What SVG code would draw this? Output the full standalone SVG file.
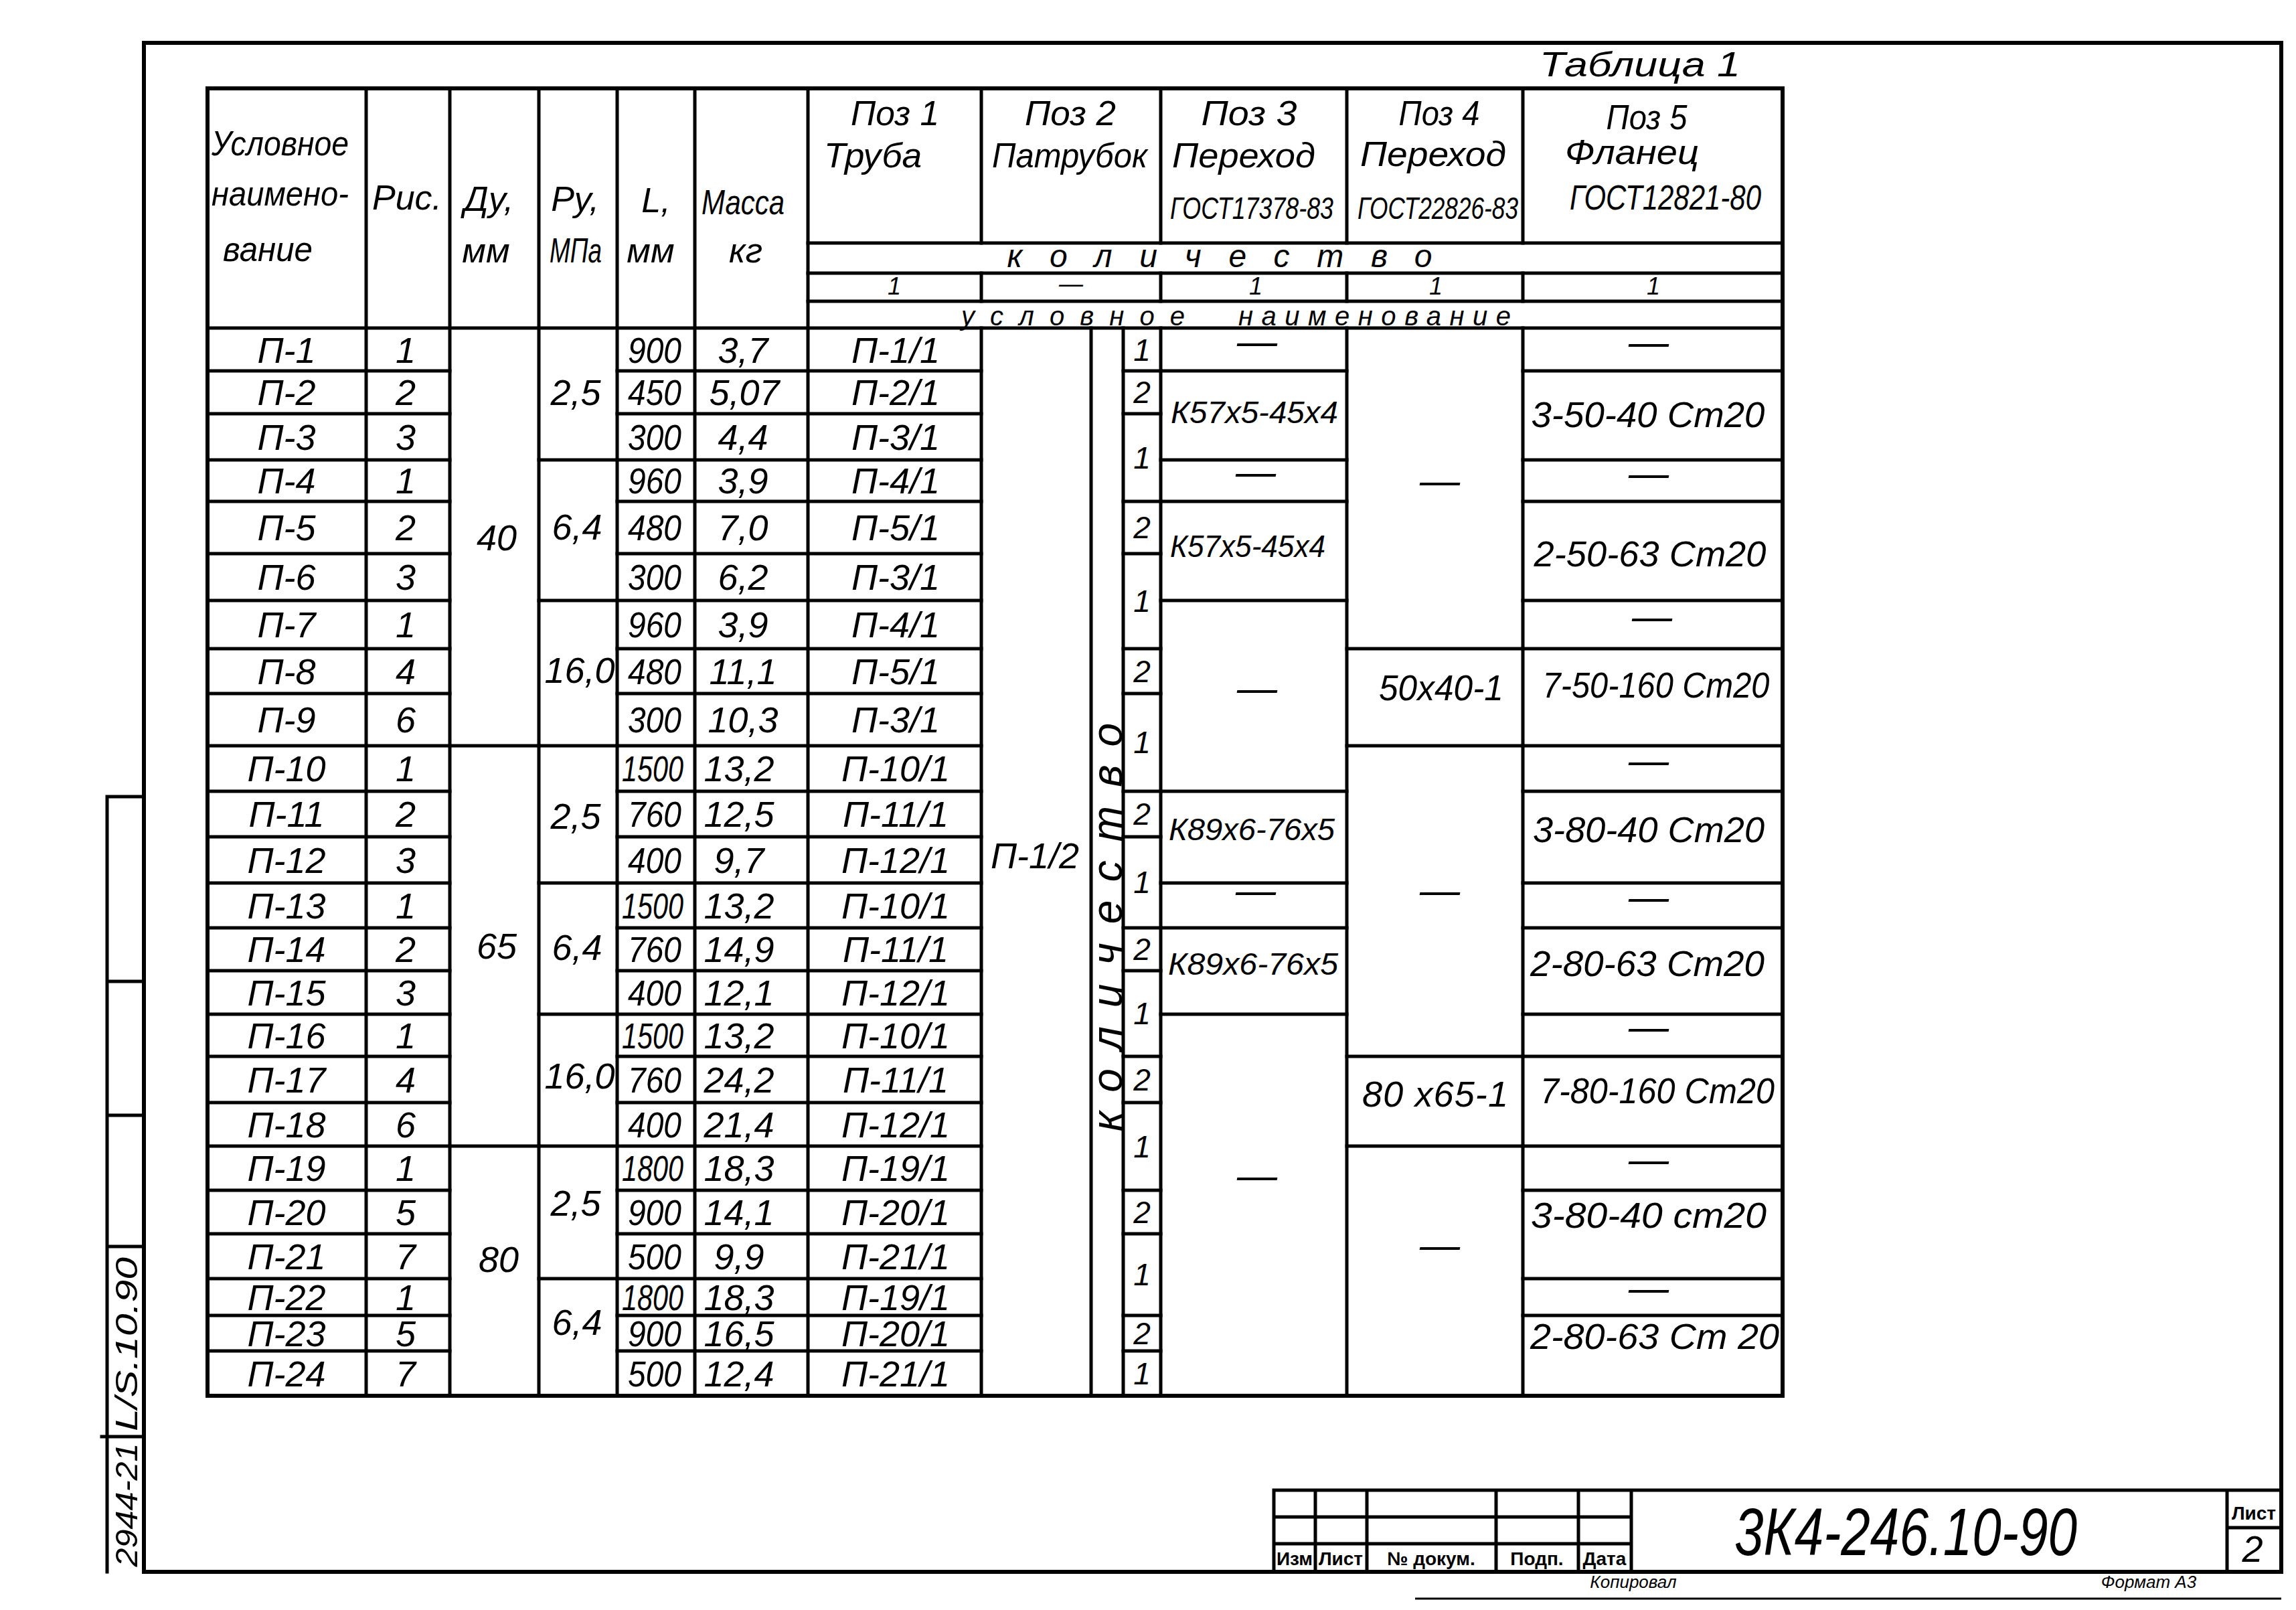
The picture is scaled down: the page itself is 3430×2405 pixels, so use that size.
<svg xmlns="http://www.w3.org/2000/svg" width="3430" height="2405" viewBox="0 0 3430 2405">
<style>
.ln{stroke:#000;stroke-width:5;fill:none;stroke-linecap:square}
.th{stroke:#000;stroke-width:6;fill:none;stroke-linecap:square}
.tn{stroke:#000;stroke-width:3;fill:none}
text{font-family:"Liberation Sans","DejaVu Sans",sans-serif;font-style:italic;fill:#000}
.h{font-size:52px}
.g{font-size:46px}
.d{font-size:54px;text-anchor:middle}
.m{text-anchor:middle}
.s{font-size:46px;text-anchor:middle}
.ds{font-size:60px;text-anchor:middle}
.tb{font-size:28px;font-style:normal;font-weight:bold;text-anchor:middle}
</style>
<rect width="3430" height="2405" fill="#fff"/>

<g id="frame">
  <path class="th" d="M215 64H3408V2348H215Z"/>
  <text x="2450" y="114" font-size="52" class="m" textLength="300" lengthAdjust="spacingAndGlyphs">Таблица 1</text>
</g>

<g id="stamp">
  <path class="ln" d="M160 1190H215M160 1190V2348M160 1466H215M160 1666H215M160 1862H215M152 2146H215"/>
  <text transform="translate(205,2248) rotate(-90)" font-size="46" class="m" textLength="185" lengthAdjust="spacingAndGlyphs">2944-21</text>
  <text transform="translate(205,2008) rotate(-90)" font-size="46" class="m" textLength="260" lengthAdjust="spacingAndGlyphs">L/S.10.90</text>
</g>

<g id="table-grid">
  <path class="th" d="M310 132H2663V2085H310Z"/>
  <path class="ln" d="M310 490H2663M1207 363H2663M1207 408H2663M1207 450H2663"/>
  <path class="ln" d="M547 132V2085M672 132V2085M805 132V2085M922 132V2085M1038 132V2085M1207 132V2085"/>
  <path class="ln" d="M1466 132V363M1734 132V363M2012 132V363M2275 132V363M1466 408V450M1734 408V450M2012 408V450M2275 408V450"/>
  <path class="ln" d="M1466 490V2085M1630 490V2085M1678 490V2085M1734 490V2085M2012 490V2085M2275 490V2085"/>
  <path class="ln" d="M310 554H672M310 618H672M310 687H672M310 749H672M310 827H672M310 897H672M310 969H672M310 1036H672M310 1114H672M310 1182H672M310 1250H672M310 1319H672M310 1386H672M310 1450H672M310 1515H672M310 1578H672M310 1647H672M310 1712H672M310 1778H672M310 1843H672M310 1910H672M310 1965H672M310 2018H672"/>
  <path class="ln" d="M922 554H1466M922 618H1466M922 687H1466M922 749H1466M922 827H1466M922 897H1466M922 969H1466M922 1036H1466M922 1114H1466M922 1182H1466M922 1250H1466M922 1319H1466M922 1386H1466M922 1450H1466M922 1515H1466M922 1578H1466M922 1647H1466M922 1712H1466M922 1778H1466M922 1843H1466M922 1910H1466M922 1965H1466M922 2018H1466"/>
  <path class="ln" d="M672 1114H805M672 1712H805"/>
  <path class="ln" d="M805 687H922M805 897H922M805 1114H922M805 1319H922M805 1515H922M805 1712H922M805 1910H922"/>
  <path class="ln" d="M1678 554H1734M1678 618H1734M1678 749H1734M1678 827H1734M1678 969H1734M1678 1036H1734M1678 1182H1734M1678 1250H1734M1678 1386H1734M1678 1450H1734M1678 1578H1734M1678 1647H1734M1678 1778H1734M1678 1843H1734M1678 1965H1734M1678 2018H1734"/>
  <path class="ln" d="M1734 554H2012M1734 687H2012M1734 749H2012M1734 897H2012M1734 1182H2012M1734 1319H2012M1734 1386H2012M1734 1515H2012"/>
  <path class="ln" d="M2012 969H2275M2012 1114H2275M2012 1578H2275M2012 1712H2275"/>
  <path class="ln" d="M2275 554H2663M2275 687H2663M2275 749H2663M2275 897H2663M2275 969H2663M2275 1114H2663M2275 1182H2663M2275 1319H2663M2275 1386H2663M2275 1515H2663M2275 1578H2663M2275 1712H2663M2275 1778H2663M2275 1910H2663M2275 1965H2663"/>
</g>

<g id="header">
  <text class="h" x="316" y="232" textLength="205" lengthAdjust="spacingAndGlyphs">Условное</text>
  <text class="h" x="316" y="307" textLength="205" lengthAdjust="spacingAndGlyphs">наимено-</text>
  <text class="h" x="333" y="390" textLength="134" lengthAdjust="spacingAndGlyphs">вание</text>
  <text class="h m" x="608" y="313">Рис.</text>
  <text class="h m" x="730" y="315">Ду,</text>
  <text class="h m" x="726" y="392">мм</text>
  <text class="h m" x="859" y="315">Ру,</text>
  <text class="h m" x="860" y="392" textLength="78" lengthAdjust="spacingAndGlyphs">МПа</text>
  <text class="h m" x="980" y="317">L,</text>
  <text class="h m" x="972" y="392">мм</text>
  <text class="h m" x="1110" y="320" textLength="124" lengthAdjust="spacingAndGlyphs">Масса</text>
  <text class="h m" x="1114" y="392">кг</text>

  <text class="h m" x="1337" y="187" textLength="132" lengthAdjust="spacingAndGlyphs">Поз 1</text>
  <text class="h m" x="1304" y="250" textLength="146" lengthAdjust="spacingAndGlyphs">Труба</text>
  <text class="h m" x="1599" y="187" textLength="136" lengthAdjust="spacingAndGlyphs">Поз 2</text>
  <text class="h m" x="1598" y="250" textLength="232" lengthAdjust="spacingAndGlyphs">Патрубок</text>
  <text class="h m" x="1866" y="187" textLength="143" lengthAdjust="spacingAndGlyphs">Поз 3</text>
  <text class="h m" x="1858" y="250" textLength="214" lengthAdjust="spacingAndGlyphs">Переход</text>
  <text class="g m" x="1870" y="327" textLength="244" lengthAdjust="spacingAndGlyphs">ГОСТ17378-83</text>
  <text class="h m" x="2150" y="187" textLength="121" lengthAdjust="spacingAndGlyphs">Поз 4</text>
  <text class="h m" x="2141" y="248" textLength="218" lengthAdjust="spacingAndGlyphs">Переход</text>
  <text class="g m" x="2148" y="327" textLength="240" lengthAdjust="spacingAndGlyphs">ГОСТ22826-83</text>
  <text class="h m" x="2460" y="193" textLength="121" lengthAdjust="spacingAndGlyphs">Поз 5</text>
  <text class="h m" x="2438" y="245" textLength="200" lengthAdjust="spacingAndGlyphs">Фланец</text>
  <text class="h m" x="2488" y="313" textLength="286" lengthAdjust="spacingAndGlyphs">ГОСТ12821-80</text>

  <text font-size="48" class="m" x="1822" y="399" textLength="635" lengthAdjust="spacing">количество</text>
  <text font-size="36" class="m" x="1336" y="440">1</text>
  <text font-size="36" class="m" x="1600" y="436">—</text>
  <text font-size="36" class="m" x="1876" y="440">1</text>
  <text font-size="36" class="m" x="2145" y="440">1</text>
  <text font-size="36" class="m" x="2470" y="440">1</text>
  <text font-size="40" x="1436" y="486" textLength="334" lengthAdjust="spacing">условное</text>
  <text font-size="40" x="1850" y="486" textLength="407" lengthAdjust="spacing">наименование</text>
</g>

<g id="col-name">
  <text class="d" x="428" y="542">П-1</text>
  <text class="d" x="428" y="605">П-2</text>
  <text class="d" x="428" y="672">П-3</text>
  <text class="d" x="428" y="737">П-4</text>
  <text class="d" x="428" y="807">П-5</text>
  <text class="d" x="428" y="881">П-6</text>
  <text class="d" x="428" y="952">П-7</text>
  <text class="d" x="428" y="1022">П-8</text>
  <text class="d" x="428" y="1094">П-9</text>
  <text class="d" x="428" y="1167">П-10</text>
  <text class="d" x="428" y="1235">П-11</text>
  <text class="d" x="428" y="1304">П-12</text>
  <text class="d" x="428" y="1372">П-13</text>
  <text class="d" x="428" y="1437">П-14</text>
  <text class="d" x="428" y="1502">П-15</text>
  <text class="d" x="428" y="1566">П-16</text>
  <text class="d" x="428" y="1632">П-17</text>
  <text class="d" x="428" y="1699">П-18</text>
  <text class="d" x="428" y="1764">П-19</text>
  <text class="d" x="428" y="1830">П-20</text>
  <text class="d" x="428" y="1896">П-21</text>
  <text class="d" x="428" y="1957">П-22</text>
  <text class="d" x="428" y="2011">П-23</text>
  <text class="d" x="428" y="2071">П-24</text>
</g>

<g id="col-fig">
  <text class="d" x="606" y="542">1</text>
  <text class="d" x="606" y="605">2</text>
  <text class="d" x="606" y="672">3</text>
  <text class="d" x="606" y="737">1</text>
  <text class="d" x="606" y="807">2</text>
  <text class="d" x="606" y="881">3</text>
  <text class="d" x="606" y="952">1</text>
  <text class="d" x="606" y="1022">4</text>
  <text class="d" x="606" y="1094">6</text>
  <text class="d" x="606" y="1167">1</text>
  <text class="d" x="606" y="1235">2</text>
  <text class="d" x="606" y="1304">3</text>
  <text class="d" x="606" y="1372">1</text>
  <text class="d" x="606" y="1437">2</text>
  <text class="d" x="606" y="1502">3</text>
  <text class="d" x="606" y="1566">1</text>
  <text class="d" x="606" y="1632">4</text>
  <text class="d" x="606" y="1699">6</text>
  <text class="d" x="606" y="1764">1</text>
  <text class="d" x="606" y="1830">5</text>
  <text class="d" x="606" y="1896">7</text>
  <text class="d" x="606" y="1957">1</text>
  <text class="d" x="606" y="2011">5</text>
  <text class="d" x="606" y="2071">7</text>
</g>

<g id="col-dn-pn">
  <text class="d" x="742" y="822">40</text>
  <text class="d" x="742" y="1432">65</text>
  <text class="d" x="745" y="1900">80</text>
  <text class="d" x="860" y="605">2,5</text>
  <text class="d" x="862" y="806">6,4</text>
  <text class="d" x="866" y="1020">16,0</text>
  <text class="d" x="860" y="1238">2,5</text>
  <text class="d" x="862" y="1434">6,4</text>
  <text class="d" x="866" y="1626">16,0</text>
  <text class="d" x="860" y="1816">2,5</text>
  <text class="d" x="862" y="1994">6,4</text>
</g>

<g id="col-length">
  <text class="d" x="978" y="542" textLength="80" lengthAdjust="spacingAndGlyphs">900</text>
  <text class="d" x="978" y="605" textLength="80" lengthAdjust="spacingAndGlyphs">450</text>
  <text class="d" x="978" y="672" textLength="80" lengthAdjust="spacingAndGlyphs">300</text>
  <text class="d" x="978" y="737" textLength="80" lengthAdjust="spacingAndGlyphs">960</text>
  <text class="d" x="978" y="807" textLength="80" lengthAdjust="spacingAndGlyphs">480</text>
  <text class="d" x="978" y="881" textLength="80" lengthAdjust="spacingAndGlyphs">300</text>
  <text class="d" x="978" y="952" textLength="80" lengthAdjust="spacingAndGlyphs">960</text>
  <text class="d" x="978" y="1022" textLength="80" lengthAdjust="spacingAndGlyphs">480</text>
  <text class="d" x="978" y="1094" textLength="80" lengthAdjust="spacingAndGlyphs">300</text>
  <text class="d" x="975" y="1167" textLength="92" lengthAdjust="spacingAndGlyphs">1500</text>
  <text class="d" x="978" y="1235" textLength="80" lengthAdjust="spacingAndGlyphs">760</text>
  <text class="d" x="978" y="1304" textLength="80" lengthAdjust="spacingAndGlyphs">400</text>
  <text class="d" x="975" y="1372" textLength="92" lengthAdjust="spacingAndGlyphs">1500</text>
  <text class="d" x="978" y="1437" textLength="80" lengthAdjust="spacingAndGlyphs">760</text>
  <text class="d" x="978" y="1502" textLength="80" lengthAdjust="spacingAndGlyphs">400</text>
  <text class="d" x="975" y="1566" textLength="92" lengthAdjust="spacingAndGlyphs">1500</text>
  <text class="d" x="978" y="1632" textLength="80" lengthAdjust="spacingAndGlyphs">760</text>
  <text class="d" x="978" y="1699" textLength="80" lengthAdjust="spacingAndGlyphs">400</text>
  <text class="d" x="975" y="1764" textLength="92" lengthAdjust="spacingAndGlyphs">1800</text>
  <text class="d" x="978" y="1830" textLength="80" lengthAdjust="spacingAndGlyphs">900</text>
  <text class="d" x="978" y="1896" textLength="80" lengthAdjust="spacingAndGlyphs">500</text>
  <text class="d" x="975" y="1957" textLength="92" lengthAdjust="spacingAndGlyphs">1800</text>
  <text class="d" x="978" y="2011" textLength="80" lengthAdjust="spacingAndGlyphs">900</text>
  <text class="d" x="978" y="2071" textLength="80" lengthAdjust="spacingAndGlyphs">500</text>
</g>

<g id="col-mass">
  <text class="d" x="1110" y="542">3,7</text>
  <text class="d" x="1112" y="605">5,07</text>
  <text class="d" x="1110" y="672">4,4</text>
  <text class="d" x="1110" y="737">3,9</text>
  <text class="d" x="1110" y="807">7,0</text>
  <text class="d" x="1110" y="881">6,2</text>
  <text class="d" x="1110" y="952">3,9</text>
  <text class="d" x="1110" y="1022">11,1</text>
  <text class="d" x="1110" y="1094">10,3</text>
  <text class="d" x="1104" y="1167">13,2</text>
  <text class="d" x="1104" y="1235">12,5</text>
  <text class="d" x="1104" y="1304">9,7</text>
  <text class="d" x="1104" y="1372">13,2</text>
  <text class="d" x="1104" y="1437">14,9</text>
  <text class="d" x="1104" y="1502">12,1</text>
  <text class="d" x="1104" y="1566">13,2</text>
  <text class="d" x="1104" y="1632">24,2</text>
  <text class="d" x="1104" y="1699">21,4</text>
  <text class="d" x="1104" y="1764">18,3</text>
  <text class="d" x="1104" y="1830">14,1</text>
  <text class="d" x="1104" y="1896">9,9</text>
  <text class="d" x="1104" y="1957">18,3</text>
  <text class="d" x="1104" y="2011">16,5</text>
  <text class="d" x="1104" y="2071">12,4</text>
</g>

<g id="col-pos1">
  <text class="d" x="1338" y="542">П-1/1</text>
  <text class="d" x="1338" y="605">П-2/1</text>
  <text class="d" x="1338" y="672">П-3/1</text>
  <text class="d" x="1338" y="737">П-4/1</text>
  <text class="d" x="1338" y="807">П-5/1</text>
  <text class="d" x="1338" y="881">П-3/1</text>
  <text class="d" x="1338" y="952">П-4/1</text>
  <text class="d" x="1338" y="1022">П-5/1</text>
  <text class="d" x="1338" y="1094">П-3/1</text>
  <text class="d" x="1338" y="1167">П-10/1</text>
  <text class="d" x="1338" y="1235">П-11/1</text>
  <text class="d" x="1338" y="1304">П-12/1</text>
  <text class="d" x="1338" y="1372">П-10/1</text>
  <text class="d" x="1338" y="1437">П-11/1</text>
  <text class="d" x="1338" y="1502">П-12/1</text>
  <text class="d" x="1338" y="1566">П-10/1</text>
  <text class="d" x="1338" y="1632">П-11/1</text>
  <text class="d" x="1338" y="1699">П-12/1</text>
  <text class="d" x="1338" y="1764">П-19/1</text>
  <text class="d" x="1338" y="1830">П-20/1</text>
  <text class="d" x="1338" y="1896">П-21/1</text>
  <text class="d" x="1338" y="1957">П-19/1</text>
  <text class="d" x="1338" y="2011">П-20/1</text>
  <text class="d" x="1338" y="2071">П-21/1</text>
</g>

<g id="col-pos2">
  <text class="d" x="1546" y="1297">П-1/2</text>
  <text transform="translate(1676,1385) rotate(-90)" font-size="64" class="m" textLength="610" lengthAdjust="spacing">количество</text>
  <text class="s" x="1706" y="539">1</text>
  <text class="s" x="1706" y="602">2</text>
  <text class="s" x="1706" y="700">1</text>
  <text class="s" x="1706" y="804">2</text>
  <text class="s" x="1706" y="914">1</text>
  <text class="s" x="1706" y="1019">2</text>
  <text class="s" x="1706" y="1125">1</text>
  <text class="s" x="1706" y="1232">2</text>
  <text class="s" x="1706" y="1334">1</text>
  <text class="s" x="1706" y="1434">2</text>
  <text class="s" x="1706" y="1530">1</text>
  <text class="s" x="1706" y="1629">2</text>
  <text class="s" x="1706" y="1729">1</text>
  <text class="s" x="1706" y="1827">2</text>
  <text class="s" x="1706" y="1920">1</text>
  <text class="s" x="1706" y="2008">2</text>
  <text class="s" x="1706" y="2068">1</text>
</g>

<g id="col-pos3">
  <text class="ds" x="1878" y="530">—</text>
  <text class="s" x="1874" y="632" textLength="250" lengthAdjust="spacingAndGlyphs">К57х5-45х4</text>
  <text class="ds" x="1876" y="725">—</text>
  <text class="s" x="1864" y="832" textLength="232" lengthAdjust="spacingAndGlyphs">К57х5-45х4</text>
  <text class="ds" x="1878" y="1048">—</text>
  <text class="s" x="1870" y="1255" textLength="248" lengthAdjust="spacingAndGlyphs">К89х6-76х5</text>
  <text class="ds" x="1876" y="1350">—</text>
  <text class="s" x="1872" y="1456" textLength="254" lengthAdjust="spacingAndGlyphs">К89х6-76х5</text>
  <text class="ds" x="1878" y="1776">—</text>
</g>

<g id="col-pos4">
  <text class="ds" x="2151" y="738">—</text>
  <text class="d" x="2153" y="1046" textLength="186" lengthAdjust="spacingAndGlyphs">50х40-1</text>
  <text class="ds" x="2151" y="1350">—</text>
  <text class="d" x="2144" y="1653" textLength="218" lengthAdjust="spacing">80 х65-1</text>
  <text class="ds" x="2151" y="1880">—</text>
</g>

<g id="col-pos5">
  <text class="ds" x="2463" y="531">—</text>
  <text class="d" x="2462" y="638" textLength="349" lengthAdjust="spacingAndGlyphs">3-50-40 Ст20</text>
  <text class="ds" x="2463" y="727">—</text>
  <text class="d" x="2465" y="846" textLength="347" lengthAdjust="spacingAndGlyphs">2-50-63 Ст20</text>
  <text class="ds" x="2468" y="941">—</text>
  <text class="d" x="2474" y="1042" textLength="339" lengthAdjust="spacingAndGlyphs">7-50-160 Ст20</text>
  <text class="ds" x="2463" y="1156">—</text>
  <text class="d" x="2463" y="1258" textLength="346" lengthAdjust="spacingAndGlyphs">3-80-40 Ст20</text>
  <text class="ds" x="2463" y="1360">—</text>
  <text class="d" x="2461" y="1458" textLength="350" lengthAdjust="spacingAndGlyphs">2-80-63 Ст20</text>
  <text class="ds" x="2463" y="1554">—</text>
  <text class="d" x="2476" y="1648" textLength="350" lengthAdjust="spacingAndGlyphs">7-80-160 Ст20</text>
  <text class="ds" x="2463" y="1752">—</text>
  <text class="d" x="2463" y="1834" textLength="352" lengthAdjust="spacingAndGlyphs">3-80-40 ст20</text>
  <text class="ds" x="2463" y="1944">—</text>
  <text class="d" x="2472" y="2015" textLength="372" lengthAdjust="spacingAndGlyphs">2-80-63 Ст 20</text>
</g>

<g id="title-block">
  <path class="ln" d="M1903 2226H3408M1903 2226V2348M1903 2266H2437M1903 2306H2437M1965 2226V2348M2042 2226V2348M2235 2226V2348M2358 2226V2348M2437 2226V2348M3327 2226V2348M3327 2282H3408"/>
  <text class="tb" x="1934" y="2338">Изм</text>
  <text class="tb" x="2003" y="2338">Лист</text>
  <text class="tb" x="2138" y="2338">№ докум.</text>
  <text class="tb" x="2296" y="2338">Подп.</text>
  <text class="tb" x="2397" y="2338">Дата</text>
  <text x="2847" y="2323" font-size="100" class="m" textLength="512" lengthAdjust="spacingAndGlyphs">3К4-246.10-90</text>
  <text class="tb" x="3367" y="2270" font-size="26">Лист</text>
  <text x="3365" y="2333" font-size="56" class="m">2</text>
  <path class="tn" d="M2114 2388H3408"/>
  <text x="2440" y="2372" font-size="26" class="m" font-style="normal">Копировал</text>
  <text x="3210" y="2372" font-size="26" class="m" font-style="normal">Формат А3</text>
</g>
</svg>
